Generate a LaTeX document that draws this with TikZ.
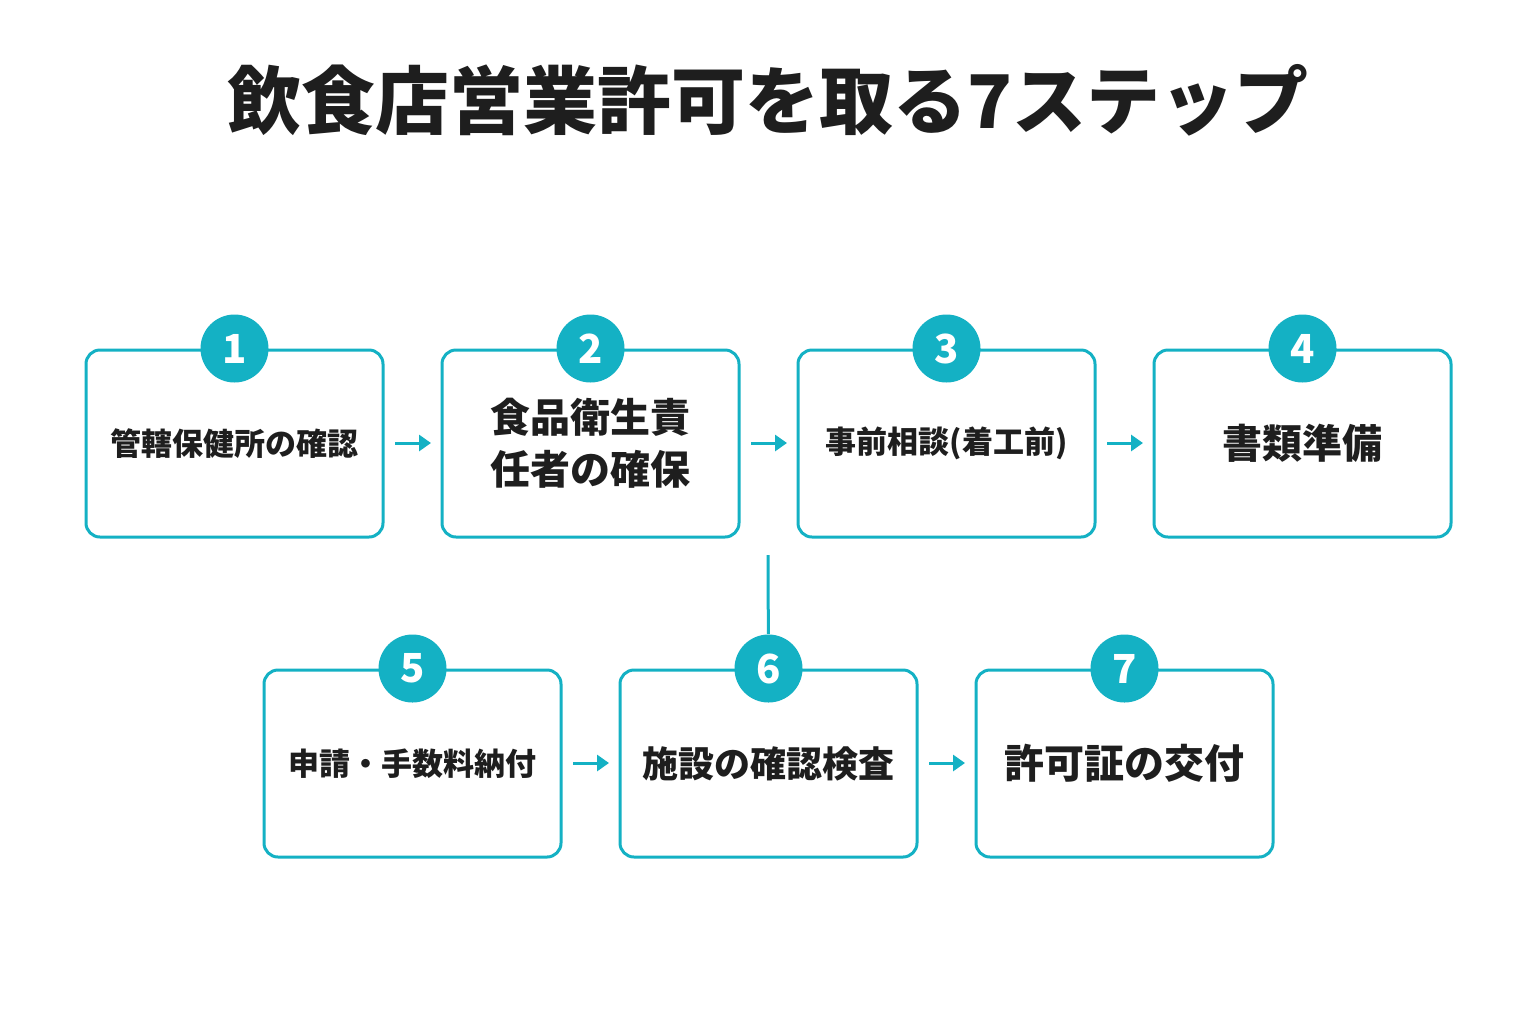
\documentclass[tikz,border=0pt]{standalone}
\usepackage{fontspec}
\setmainfont{Noto Sans CJK JP}
\usetikzlibrary{arrows.meta}
\definecolor{teal}{HTML}{14B1C4}
\definecolor{ink}{HTML}{1E1E1E}
\begin{document}
\begin{tikzpicture}[x=0.5pt,y=-0.5pt,
  box/.style={draw=teal,line width=1.5pt,rounded corners=7pt,minimum width=148.5pt,minimum height=93.5pt,fill=white,text=ink,font=\bfseries,align=center},
  num/.style={circle,fill=teal,minimum size=34pt,inner sep=0pt,text=white,font=\bfseries\fontsize{20}{20}\selectfont},
  arr/.style={draw=teal,line width=1.5pt,-{Triangle[length=6pt,width=8pt]}},
  small/.style={font=\bfseries\fontsize{15.5}{19}\selectfont},
  mid/.style={font=\bfseries\fontsize{18}{22}\selectfont},
  big/.style={font=\bfseries\fontsize{20}{26}\selectfont}]
\useasboundingbox[fill=white] (0,0) rectangle (1536,1024);
\node[text=ink,font=\bfseries\fontsize{37}{40}\selectfont] (title) at (768,100) {飲食店営業許可を取る7ステップ};
\node[box,small] (b1) at (234.5,443.5) {管轄保健所の確認};
\node[box,big] (b2) at (590.5,443.5) {食品衛生責\\任者の確保};
\node[box,small] (b3) at (946.5,443.5) {事前相談(着工前)};
\node[box,big] (b4) at (1302.5,443.5) {書類準備};
\node[box,small] (b5) at (412.5,763.5) {申請・手数料納付};
\node[box,mid] (b6) at (768.5,763.5) {施設の確認検査};
\node[box,big] (b7) at (1124.5,763.5) {許可証の交付};
\foreach \i in {1,...,7}{\node[num] (n\i) at (b\i.north) {\i};}
\coordinate (a1s) at (395,443); \coordinate (a1e) at (431,443);
\coordinate (a2s) at (751,443); \coordinate (a2e) at (787,443);
\coordinate (a3s) at (1107,443); \coordinate (a3e) at (1143,443);
\coordinate (a5s) at (573,763); \coordinate (a5e) at (609,763);
\coordinate (a6s) at (929,763); \coordinate (a6e) at (965,763);
\draw[arr] (a1s) -- (a1e);
\draw[arr] (a2s) -- (a2e);
\draw[arr] (a3s) -- (a3e);
\draw[arr] (a5s) -- (a5e);
\draw[arr] (a6s) -- (a6e);
\coordinate (v) at (768,555);
\draw[teal,line width=1.5pt] (v) -- (n6);
\end{tikzpicture}
\end{document}
